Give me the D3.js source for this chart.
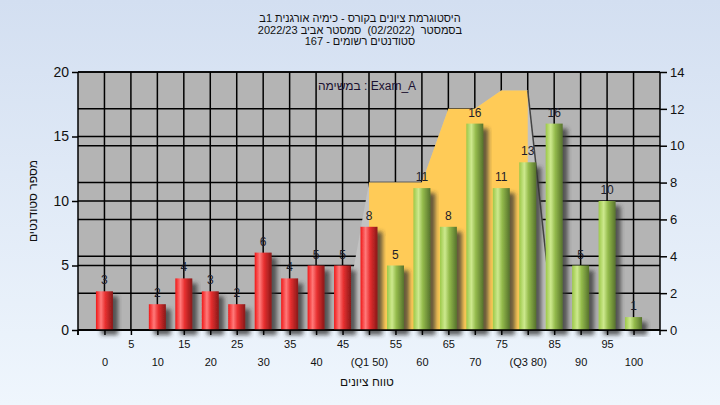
<!DOCTYPE html>
<html><head><meta charset="utf-8">
<script src="https://cdn.jsdelivr.net/npm/d3@7"></script>
<style>
html,body{margin:0;padding:0;width:720px;height:405px;overflow:hidden;}
svg{display:block;font-family:"Liberation Sans",Arial,sans-serif;}
</style></head>
<body>
<svg id="c" width="720" height="405"></svg>
<script>
// ---------- data ----------
const categories = [0,5,10,15,20,25,30,35,40,45,50,55,60,65,70,75,80,85,90,95,100];
const counts     = [3,0,2,4,3,2,6,4,5,5,8,5,11,8,16,11,13,16,5,10,1];
const xTickLabels = ["0","5","10","15","20","25","30","35","40","45","(Q1 50)","55","60","65","70","75","(Q3 80)","85","90","95","100"];
const areaCats   = [45,50,55,60,65,70,75,80,85];
const areaValues = [0,8,8,8,12,12,13,13,0];
const leftTicks  = [0,5,10,15,20];
const rightTicks = [0,2,4,6,8,10,12,14];
const q1 = 50;
const titleLines = [
  "היסטוגרמת ציונים בקורס - כימיה אורגנית 1ב",
  "בסמסטר  (02/2022)  סמסטר אביב 2022/23",
  "סטודנטים רשומים - 167"
];
const legendText = "במשימה : Exam_A";
const yTitle = "מספר סטודנטים";
const xTitle = "טווח ציונים";

// ---------- layout ----------
const L = 78, R = 660, T = 72, B = 330;
const svg = d3.select("#c");
const defs = svg.append("defs");

const bg = defs.append("linearGradient").attr("id","bg").attr("x1",0).attr("y1",0).attr("x2",0).attr("y2",1);
bg.append("stop").attr("offset","0%").attr("stop-color","#d3dff1");
bg.append("stop").attr("offset","100%").attr("stop-color","#eff6fd");

function cyl(id, stops){
  const g = defs.append("linearGradient").attr("id",id).attr("x1",0).attr("y1",0).attr("x2",1).attr("y2",0);
  stops.forEach(s=>g.append("stop").attr("offset",s[0]).attr("stop-color",s[1]));
}
cyl("gRed",[["0%","#f01818"],["30%","#ff7a7a"],["55%","#e83030"],["100%","#881818"]]);
cyl("gGreen",[["0%","#9cc848"],["30%","#cde98e"],["55%","#94bb4c"],["100%","#56722c"]]);

const f = defs.append("filter").attr("id","sh").attr("x","-50%").attr("y","-50%").attr("width","200%").attr("height","200%");
f.append("feDropShadow").attr("dx",5).attr("dy",5).attr("stdDeviation",2).attr("flood-color","#303030").attr("flood-opacity",0.75);

svg.append("rect").attr("width",720).attr("height",405).attr("fill","url(#bg)");

// scales
const x = d3.scalePoint().domain(categories).range([L + (R-L)/22, R - (R-L)/22]);
const yL = d3.scaleLinear().domain([0,20]).range([B,T]);
const yR = d3.scaleLinear().domain([0,14]).range([B,T]);

// plot bg
svg.append("rect").attr("x",L).attr("y",T).attr("width",R-L).attr("height",B-T).attr("fill","#b4b4b4");

// gridlines
const grid = svg.append("g").attr("stroke","#000").attr("stroke-width",1.5);
grid.selectAll(".v").data(categories).join("line")
  .attr("x1",d=>x(d)).attr("x2",d=>x(d)).attr("y1",T).attr("y2",B);
grid.selectAll(".hl").data(leftTicks).join("line")
  .attr("x1",L).attr("x2",R).attr("y1",d=>yL(d)).attr("y2",d=>yL(d));
grid.selectAll(".hr").data(rightTicks).join("line")
  .attr("x1",L).attr("x2",R).attr("y1",d=>yR(d)).attr("y2",d=>yR(d));

// area (side faces + yellow body)
const areaPts = areaCats.map((c,i)=>({c, v:areaValues[i]}));
const areaGen = d3.area().x(d=>x(d.c)).y0(B).y1(d=>yR(d.v));
svg.append("path").datum(areaPts).attr("d",areaGen).attr("fill","#c2c2c2");
const inner = areaPts.filter(d=>d.v>0);
svg.append("path").datum(inner).attr("d",areaGen).attr("fill","#ffcb57");
const lastTwo = areaPts.slice(-2);
svg.append("path").datum(lastTwo).attr("d",d3.line().x(d=>x(d.c)).y(d=>yR(d.v)))
  .attr("stroke","#444").attr("stroke-width",1.5).attr("fill","none");

// bars
const bw = 17;
const barData = categories.map((c,i)=>({c, v:counts[i]}));
svg.append("g").selectAll("rect").data(barData.filter(d=>d.v>0)).join("rect")
  .attr("x",d=>x(d.c)-bw/2).attr("width",bw)
  .attr("y",d=>yL(d.v)).attr("height",d=>B-yL(d.v))
  .attr("fill",d=>d.c<=q1?"url(#gRed)":"url(#gGreen)")
  .attr("filter","url(#sh)");

// bar labels
svg.append("g").selectAll("text").data(barData.filter(d=>d.v>0)).join("text")
  .attr("x",d=>x(d.c)).attr("y",d=>yL(d.v)-7)
  .attr("text-anchor","middle").attr("font-size",12).attr("fill","#1c1c2a")
  .text(d=>d.v);

// axes
const axL = svg.append("g").attr("transform",`translate(${L},0)`)
  .call(d3.axisLeft(yL).tickValues(leftTicks).tickSize(6).tickPadding(3));
axL.select(".domain").attr("d",`M0,${T}V${B+5}`);
axL.selectAll("text").attr("font-size",14).attr("fill","#111").attr("font-family","Liberation Sans, Arial");
const axR = svg.append("g").attr("transform",`translate(${R},0)`)
  .call(d3.axisRight(yR).tickValues(rightTicks).tickSize(7).tickPadding(3));
axR.select(".domain").attr("d",`M0,${T}V${B+5}`);
axR.selectAll("text").attr("font-size",13).attr("fill","#111").attr("font-family","Liberation Sans, Arial");
const axB = svg.append("g").attr("transform",`translate(0,${B})`)
  .call(d3.axisBottom(x).tickSize(5).tickFormat((d,i)=>xTickLabels[i]));
axB.select(".domain").attr("d",`M${L},0H${R}`);
axB.selectAll("text").attr("font-size",11).attr("fill","#111").attr("font-family","Liberation Sans, Arial")
  .attr("dy",null).attr("y",(d,i)=> i%2===1 ? 18 : 36);
svg.selectAll(".domain, .tick line").attr("stroke","#000").attr("stroke-width",1.5);
svg.append("line").attr("x1",L).attr("x2",L).attr("y1",B).attr("y2",B+5).attr("stroke","#000").attr("stroke-width",1.5);

// titles
svg.append("g").selectAll("text").data(titleLines).join("text")
  .attr("x",360).attr("y",(d,i)=>22+i*11.7).attr("text-anchor","middle")
  .attr("font-size",11).attr("fill","#111")
  .attr("direction","rtl").style("white-space","pre")
  .text(d=>d);
svg.append("text").attr("x",367).attr("y",90).attr("text-anchor","middle").attr("font-size",12).attr("fill","#1a1030").text(legendText);
svg.append("text").attr("transform","translate(37,201) rotate(-90)").attr("text-anchor","middle")
  .attr("font-size",12).attr("fill","#111").text(yTitle);
svg.append("text").attr("x",367).attr("y",386).attr("text-anchor","middle")
  .attr("font-size",12).attr("fill","#111").text(xTitle);
</script>
</body></html>
